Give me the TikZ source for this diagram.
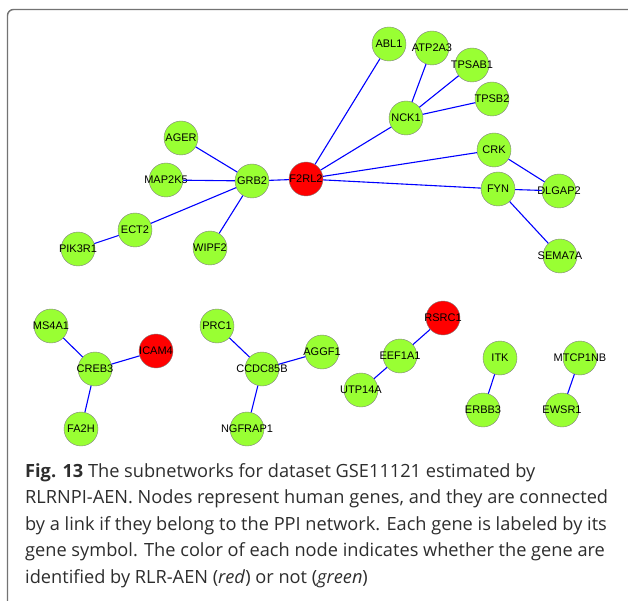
\documentclass[tikz,border=0pt]{standalone}
\usepackage{fontspec}
\setmainfont{Open Sans}
\newfontfamily\genefont{Liberation Sans}
\definecolor{genegreen}{RGB}{153,255,51}
\definecolor{capgray}{RGB}{45,45,45}
\begin{document}
\begin{tikzpicture}[x=1pt,y=-1pt,
    gene/.style={circle,draw=black!50,fill=genegreen,minimum size=34pt,inner sep=0pt,
      font=\genefont\fontsize{11}{11}\selectfont},
    hit/.style={gene,fill=red},
    link/.style={blue,line width=1.1pt}]
  \useasboundingbox (0,0) rectangle (628,601);
  \draw [black!55,line width=1.4pt,rounded corners=6pt] (7.5,601)--(7.5,9.5)--(628,9.5);
  % first subnetwork
  \node [hit] (f2rl2) at (306,179) {\makebox[0pt]{F2RL2}};
  \node [gene] (grb2) at (252,181) {\makebox[0pt]{GRB2}};
  \node [gene] (ager) at (181,138) {\makebox[0pt]{AGER}};
  \node [gene] (map2k5) at (166,180) {\makebox[0pt]{MAP2K5}};
  \node [gene] (ect2) at (135,230) {\makebox[0pt]{ECT2}};
  \node [gene] (pik3r1) at (78,249) {\makebox[0pt]{PIK3R1}};
  \node [gene] (wipf2) at (210,248) {\makebox[0pt]{WIPF2}};
  \node [gene] (abl1) at (389,44) {\makebox[0pt]{ABL1}};
  \node [gene] (atp2a3) at (432,48) {\makebox[0pt]{ATP2A3}};
  \node [gene] (tpsab1) at (472,65) {\makebox[0pt]{TPSAB1}};
  \node [gene] (tpsb2) at (492,99) {\makebox[0pt]{TPSB2}};
  \node [gene] (nck1) at (406,118) {\makebox[0pt]{NCK1}};
  \node [gene] (crk) at (494,150) {\makebox[0pt]{CRK}};
  \node [gene] (fyn) at (498,189) {\makebox[0pt]{FYN}};
  \node [gene] (dlgap2) at (559,191) {\makebox[0pt]{DLGAP2}};
  \node [gene] (sema7a) at (560,256) {\makebox[0pt]{SEMA7A}};
  % small subnetworks
  \node [gene] (ms4a1) at (51,326) {\makebox[0pt]{MS4A1}};
  \node [gene] (creb3) at (95,369) {\makebox[0pt]{CREB3}};
  \node [hit] (icam4) at (156,351) {\makebox[0pt]{ICAM4}};
  \node [gene] (fa2h) at (81,429) {\makebox[0pt]{FA2H}};
  \node [gene] (prc1) at (217,326) {\makebox[0pt]{PRC1}};
  \node [gene] (ccdc85b) at (262,369) {\makebox[0pt]{CCDC85B}};
  \node [gene] (aggf1) at (322,352) {\makebox[0pt]{AGGF1}};
  \node [gene] (ngfrap1) at (247,429) {\makebox[0pt]{NGFRAP1}};
  \node [hit] (rsrc1) at (443,318) {\makebox[0pt]{RSRC1}};
  \node [gene] (eef1a1) at (400,356) {\makebox[0pt]{EEF1A1}};
  \node [gene] (utp14a) at (361,390) {\makebox[0pt]{UTP14A}};
  \node [gene] (itk) at (500,358) {\makebox[0pt]{ITK}};
  \node [gene] (erbb3) at (483,410) {\makebox[0pt]{ERBB3}};
  \node [gene] (mtcp1nb) at (580,358) {\makebox[0pt]{MTCP1NB}};
  \node [gene] (ewsr1) at (562,410) {\makebox[0pt]{EWSR1}};
  % links
  \foreach \a/\b in {grb2/ager,grb2/map2k5,grb2/ect2,grb2/wipf2,grb2/f2rl2,ect2/pik3r1,
      f2rl2/abl1,f2rl2/nck1,f2rl2/crk,f2rl2/fyn,nck1/atp2a3,nck1/tpsab1,nck1/tpsb2,
      crk/dlgap2,fyn/dlgap2,fyn/sema7a,ms4a1/creb3,creb3/icam4,creb3/fa2h,
      prc1/ccdc85b,ccdc85b/aggf1,ccdc85b/ngfrap1,rsrc1/eef1a1,eef1a1/utp14a,
      itk/erbb3,mtcp1nb/ewsr1}
    \draw [link] (\a)--(\b);
  % caption
  \node [anchor=base west,align=left,inner sep=0pt,text=capgray,
      font=\fontsize{18.2}{26.5}\selectfont] (caption) at (25,583)
    {\textbf{Fig. 13} The subnetworks for dataset GSE11121 estimated by\\
     RLRNPI-AEN. Nodes represent human genes, and they are connected\\
     by a link if they belong to the PPI network. Each gene is labeled by its\\
     gene symbol. The color of each node indicates whether the gene are\\
     identified by RLR-AEN (\textit{red}) or not (\textit{green})};
\end{tikzpicture}
\end{document}
